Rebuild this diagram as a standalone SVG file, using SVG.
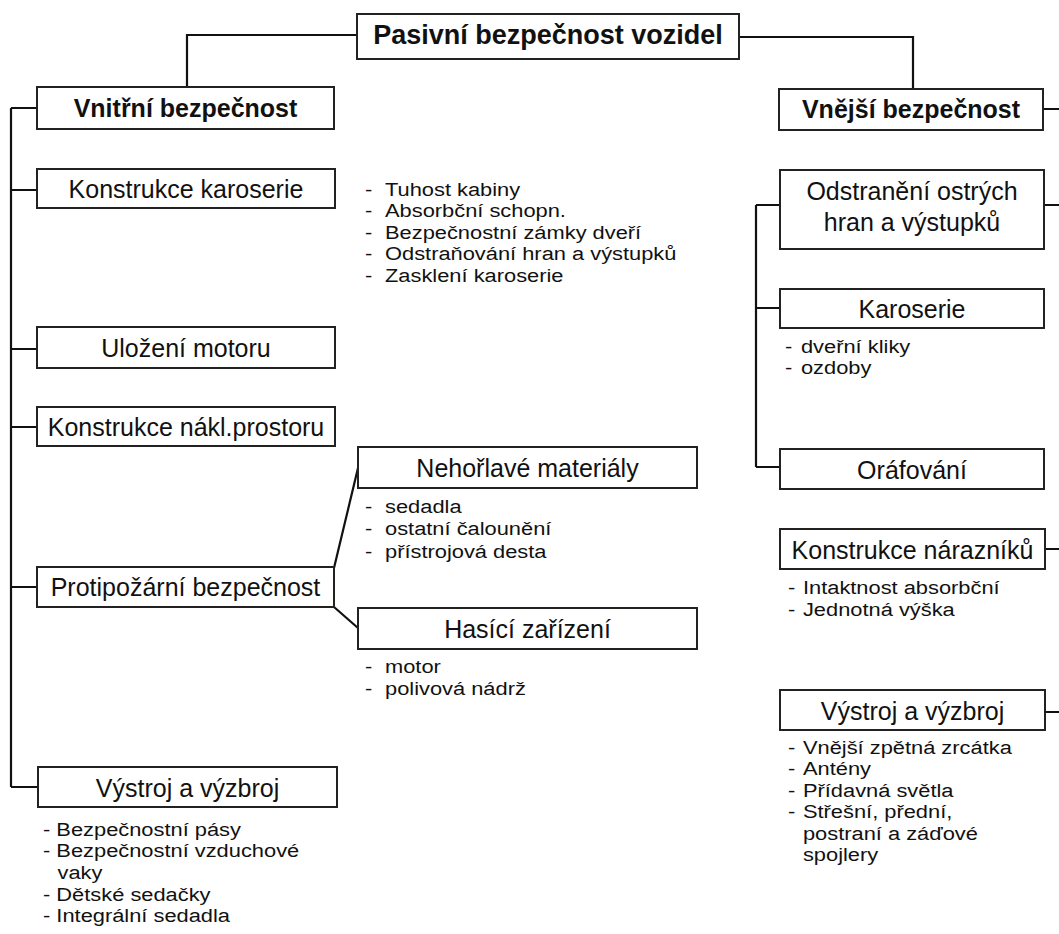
<svg xmlns="http://www.w3.org/2000/svg" width="1059" height="934" viewBox="0 0 1059 934">
<style>
text{font-family:"Liberation Sans",Arial,sans-serif;fill:#111}
.box{fill:#fff;stroke:#222;stroke-width:2}
.lbl{font-size:25px;text-anchor:middle}
.bold{font-weight:bold}
.lst{font-size:19px}
.con{fill:none;stroke:#111;stroke-width:2.2}
</style>
<rect width="1059" height="934" fill="#fff"/>
<g id="connectors" class="con">
<path d="M357 35H187V87"/>
<path d="M739 37H913V89"/>
<path d="M11 108V787"/>
<path d="M11 108H37M11 190H37M11 349H37M11 427H37M11 587H37M11 787H38"/>
<path d="M334 568L358 468M334 607L358 628"/>
<path d="M756 205V467M756 205H780M756 308H780M756 467H780"/>
<path d="M1043 109H1059M1044 205H1059M1045 549H1059M1045 712H1059"/>
</g>
<g id="n-root"><rect class="box" x="357" y="14" width="382" height="45"/><text class="bold" x="548" y="44" font-size="27" text-anchor="middle">Pasivní bezpečnost vozidel</text></g>
<g id="n-vnitrni"><rect class="box" x="37" y="87" width="297" height="42"/><text class="lbl bold" x="185.5" y="117">Vnitřní bezpečnost</text></g>
<g id="n-vnejsi"><rect class="box" x="779" y="89" width="264" height="41"/><text class="lbl bold" x="911" y="118">Vnější bezpečnost</text></g>
<g id="n-konstrukce-karoserie"><rect class="box" x="37" y="169" width="298" height="39"/><text class="lbl" x="186" y="198">Konstrukce karoserie</text>
<g class="lst" transform="translate(365 0) scale(1.15 1)"><text><tspan x="0" y="196">-</tspan><tspan x="17.4" y="196">Tuhost kabiny</tspan></text><text><tspan x="0" y="217.5">-</tspan><tspan x="17.4" y="217.5">Absorbční schopn.</tspan></text><text><tspan x="0" y="239">-</tspan><tspan x="17.4" y="239">Bezpečnostní zámky dveří</tspan></text><text><tspan x="0" y="260.5">-</tspan><tspan x="17.4" y="260.5">Odstraňování hran a výstupků</tspan></text><text><tspan x="0" y="282">-</tspan><tspan x="17.4" y="282">Zasklení karoserie</tspan></text></g></g>
<g id="n-ulozeni"><rect class="box" x="37" y="327" width="298" height="41"/><text class="lbl" x="186" y="357">Uložení motoru</text></g>
<g id="n-nakl"><rect class="box" x="37" y="407" width="298" height="39"/><text class="lbl" x="186" y="436">Konstrukce nákl.prostoru</text></g>
<g id="n-protipozarni"><rect class="box" x="37" y="567" width="297" height="40"/><text class="lbl" x="185.5" y="596">Protipožární bezpečnost</text></g>
<g id="n-nehorlave"><rect class="box" x="358" y="447" width="339" height="41"/><text class="lbl" x="527.5" y="477">Nehořlavé materiály</text>
<g class="lst" transform="translate(365 0) scale(1.15 1)"><text><tspan x="0" y="513">-</tspan><tspan x="17.4" y="513">sedadla</tspan></text><text><tspan x="0" y="535.5">-</tspan><tspan x="17.4" y="535.5">ostatní čalounění</tspan></text><text><tspan x="0" y="558">-</tspan><tspan x="17.4" y="558">přístrojová desta</tspan></text></g></g>
<g id="n-hasici"><rect class="box" x="358" y="608" width="339" height="41"/><text class="lbl" x="527.5" y="638">Hasící zařízení</text>
<g class="lst" transform="translate(365 0) scale(1.15 1)"><text><tspan x="0" y="673">-</tspan><tspan x="17.4" y="673">motor</tspan></text><text><tspan x="0" y="695">-</tspan><tspan x="17.4" y="695">polivová nádrž</tspan></text></g></g>
<g id="n-vystroj-vnitrni"><rect class="box" x="38" y="767" width="299" height="40"/><text class="lbl" x="187.5" y="797">Výstroj a výzbroj</text>
<g class="lst" transform="translate(43 0) scale(1.15 1)"><text x="0" y="836">- Bezpečnostní pásy</text><text x="0" y="857.5">- Bezpečnostní vzduchové</text><text x="12.6" y="879">vaky</text><text x="0" y="900.5">- Dětské sedačky</text><text x="0" y="922">- Integrální sedadla</text></g></g>
<g id="n-odstraneni"><rect class="box" x="780" y="170" width="264" height="79"/><text class="lbl"><tspan x="912" y="200">Odstranění ostrých</tspan><tspan x="912" y="231">hran a výstupků</tspan></text></g>
<g id="n-karoserie"><rect class="box" x="780" y="289" width="264" height="39"/><text class="lbl" x="912" y="318">Karoserie</text>
<g class="lst" transform="translate(785 0) scale(1.15 1)"><text><tspan x="0" y="353">-</tspan><tspan x="13.9" y="353">dveřní kliky</tspan></text><text><tspan x="0" y="374.5">-</tspan><tspan x="13.9" y="374.5">ozdoby</tspan></text></g></g>
<g id="n-orafovani"><rect class="box" x="780" y="449" width="264" height="40"/><text class="lbl" x="912" y="479">Oráfování</text></g>
<g id="n-naraznik"><rect class="box" x="780" y="529" width="265" height="40"/><text class="lbl" x="912.5" y="559">Konstrukce nárazníků</text>
<g class="lst" transform="translate(788 0) scale(1.15 1)"><text><tspan x="0" y="594">-</tspan><tspan x="13" y="594">Intaktnost absorbční</tspan></text><text><tspan x="0" y="616">-</tspan><tspan x="13" y="616">Jednotná výška</tspan></text></g></g>
<g id="n-vystroj-vnejsi"><rect class="box" x="780" y="690" width="265" height="40"/><text class="lbl" x="912.5" y="720">Výstroj a výzbroj</text>
<g class="lst" transform="translate(788 0) scale(1.15 1)"><text><tspan x="0" y="754">-</tspan><tspan x="13" y="754">Vnější zpětná zrcátka</tspan></text><text><tspan x="0" y="775.5">-</tspan><tspan x="13" y="775.5">Antény</tspan></text><text><tspan x="0" y="797">-</tspan><tspan x="13" y="797">Přídavná světla</tspan></text><text><tspan x="0" y="818.5">-</tspan><tspan x="13" y="818.5">Střešní, přední,</tspan></text><text x="13" y="840">postraní a záďové</text><text x="13" y="861.5">spojlery</text></g></g>
</svg>
